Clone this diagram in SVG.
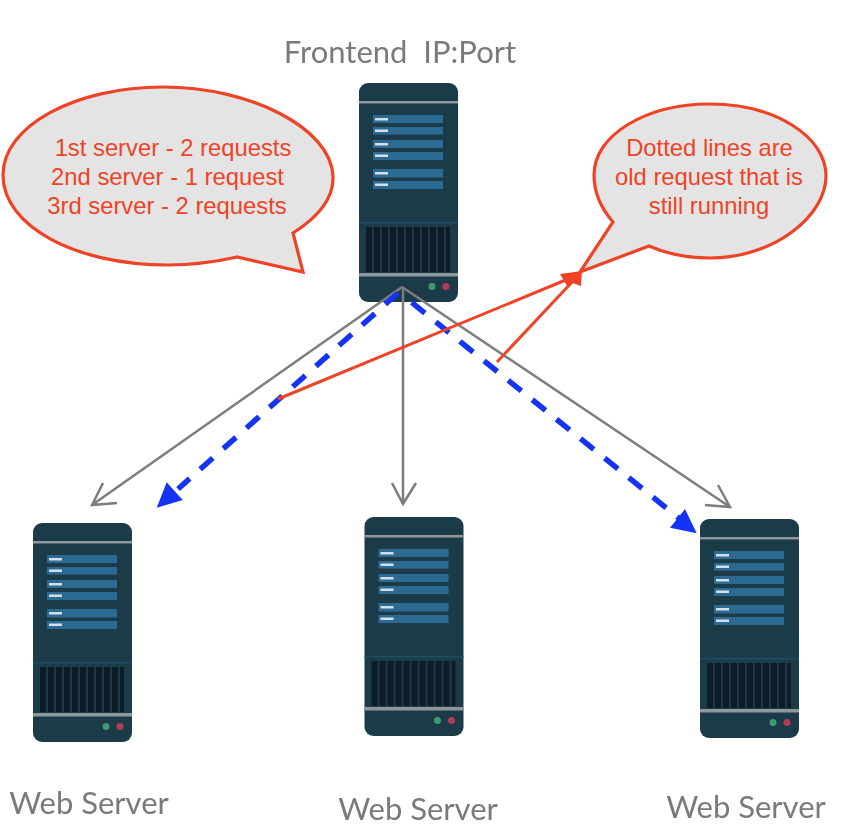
<svg xmlns="http://www.w3.org/2000/svg" width="850" height="840" viewBox="0 0 850 840">
<style>
.lbl{font-family:Lato,"Liberation Sans",sans-serif;font-size:31px;fill:#7a7a7a;text-anchor:middle;white-space:pre}
.call{font-family:"Liberation Sans",Arial,sans-serif;font-size:23.8px;fill:#ee4326;text-anchor:middle}
.bubble{fill:#e4e4e4;stroke:#ee4326;stroke-width:3.2}
.gray{stroke:#7d7d7d;stroke-width:2.5;fill:none}
.blue{stroke:#1533f5;stroke-width:5.500;fill:none;stroke-dasharray:17 14}
.red{stroke:#ee4326;stroke-width:3;fill:none}
.body{fill:#1e3a4a}
.bar{fill:#8e979c}
.row{fill:#2c6a93}
.tick{fill:#d5dfe6}
.vent{fill:#0c1a26}
.soft{filter:url(#soft)}
</style>
<defs>
<filter id="soft" x="-5%" y="-5%" width="110%" height="110%"><feGaussianBlur stdDeviation="0.5"/></filter>
<g id="server">
<rect class="body" x="0" y="0" width="99" height="219" rx="9"/>
<rect class="bar" x="0" y="18" width="99" height="2.500"/>
<rect class="row" x="14" y="32" width="70" height="8"/>
<rect class="row" x="14" y="44" width="70" height="7.500"/>
<rect class="row" x="14" y="57" width="70" height="8"/>
<rect class="row" x="14" y="69" width="70" height="8"/>
<rect class="row" x="14" y="86" width="70" height="8.500"/>
<rect class="row" x="14" y="98" width="70" height="8"/>
<rect class="tick" x="16" y="35" width="13" height="2.500"/>
<rect class="tick" x="16" y="46.500" width="13" height="2.500"/>
<rect class="tick" x="16" y="60" width="13" height="2.500"/>
<rect class="tick" x="16" y="71.500" width="13" height="2.500"/>
<rect class="tick" x="16" y="89" width="13" height="2.500"/>
<rect class="tick" x="16" y="100.500" width="13" height="2.500"/>
<rect x="0" y="139" width="99" height="1.500" fill="#1d4d66"/>
<rect class="vent" x="7" y="144" width="84" height="45"/>
<path d="M14 144v45M22 144v45M30 144v45M38 144v45M46 144v45M54 144v45M62 144v45M70 144v45M78 144v45M86 144v45" stroke="#1e3a4a" stroke-width="2" fill="none"/>
<rect class="bar" x="0" y="190" width="99" height="3.500"/>
<circle cx="73" cy="203.500" r="3.500" fill="#3f9a70"/>
<circle cx="87" cy="203.500" r="3.500" fill="#b23a55"/>
</g>
</defs>
<g id="frontend"><use class="soft" href="#server" x="359" y="83"/><text class="lbl soft" x="400" y="63">Frontend  IP:Port</text></g>
<g id="server1"><use class="soft" href="#server" x="33" y="523"/><text class="lbl soft" x="89" y="814">Web Server</text></g>
<g id="server2"><use class="soft" href="#server" x="364.500" y="517"/><text class="lbl soft" x="418" y="820">Web Server</text></g>
<g id="server3"><use class="soft" href="#server" x="700" y="519"/><text class="lbl soft" x="746" y="818">Web Server</text></g>
<g id="callout-left">
<path class="bubble" d="M293 233 C320 216 334 198 333 176 C331 128 250 87 163 87 C75 87 3 126 3 175 C3 226 75 265 168 265 C192 265 215 262 237 257 L303 272 Z"/>
<text class="call" x="173" y="155.500">1st server - 2 requests</text>
<text class="call" x="167.500" y="184.500">2nd server - 1 request</text>
<text class="call" x="167" y="213.500">3rd server - 2 requests</text>
</g>
<g id="callout-right">
<path class="bubble" d="M613 222 C600 207 594 192 594 175 C594 135 646 104 710 104 C774 104 826 136 826 176 C826 216 774 258 710 258 C688 258 667 254 649 246 L580 272 Z"/>
<text class="call" x="709.500" y="155.500">Dotted lines are</text>
<text class="call" x="709" y="184.500">old request that is</text>
<text class="call" x="709" y="213.500">still running</text>
</g>
<g id="connectors">
<path class="gray" d="M402 287L92 505M103 483L92 505L117 503"/>
<path class="gray" d="M403 287V504M392 483L403 504L416 483"/>
<path class="gray" d="M402 287L730 507M705 505L730 507L718 485"/>
<path class="blue" d="M398 293L178 489"/>
<path d="M156.700 507.700L166.700 482.300L182.700 500Z" fill="#1533f5"/>
<path class="blue" d="M411.700 302.400L680 519"/>
<path d="M696.700 533.300L670 527.700L685 509Z" fill="#1533f5"/>
<path class="red" d="M278 399L568 279"/>
<path d="M582 271L560 274L567 286Z" fill="#ee4326"/>
<path class="red" d="M497 362L574 280"/>
<path d="M582 270L567 281L581 286Z" fill="#ee4326"/>
</g>
</svg>
